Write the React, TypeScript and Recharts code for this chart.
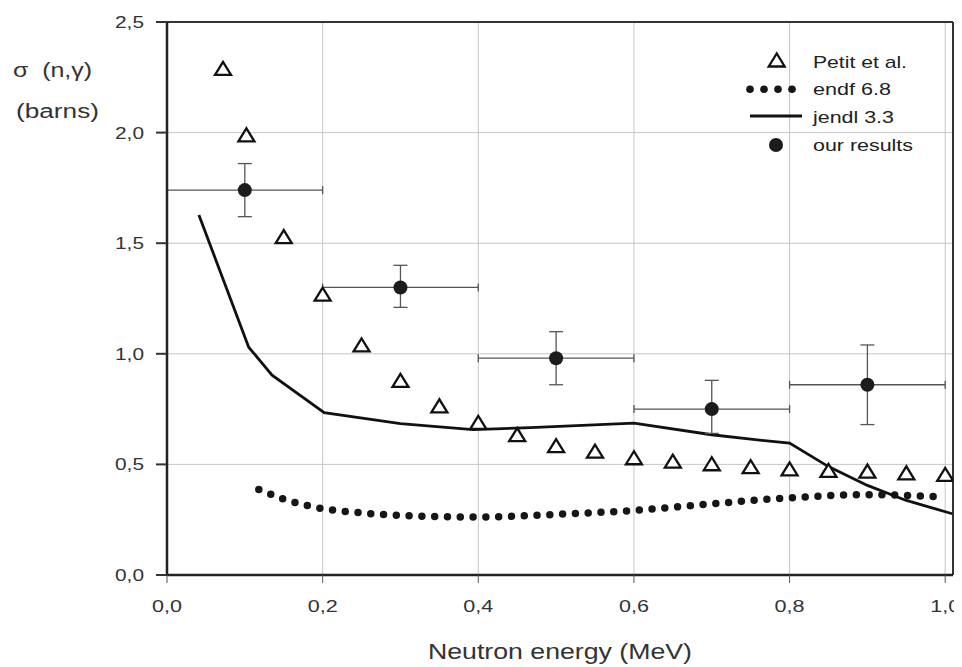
import React from "react";
import {
  ComposedChart,
  Line,
  Scatter,
  XAxis,
  YAxis,
  CartesianGrid,
  ErrorBar,
  ReferenceLine,
} from "recharts";

// ---- data ----
const petitX = [0.072, 0.102, 0.15, 0.2, 0.25, 0.3, 0.35, 0.4, 0.45, 0.5, 0.55, 0.6, 0.65, 0.7, 0.75, 0.8, 0.85, 0.9, 0.95, 1.0];
const petitY = [2.29, 1.99, 1.53, 1.27, 1.04, 0.88, 0.765, 0.69, 0.635, 0.585, 0.56, 0.53, 0.515, 0.503, 0.49, 0.48, 0.473, 0.47, 0.462, 0.455];

const endfX = [0.118, 0.15, 0.2, 0.25, 0.3, 0.4, 0.5, 0.6, 0.7, 0.8, 0.9, 1.0];
const endfY = [0.387, 0.343, 0.3, 0.281, 0.269, 0.262, 0.274, 0.292, 0.322, 0.349, 0.363, 0.352];

const jendlX = [0.041, 0.105, 0.135, 0.202, 0.3, 0.393, 0.467, 0.6, 0.7, 0.75, 0.8, 0.85, 0.9, 0.95, 1.009];
const jendlY = [1.627, 1.03, 0.903, 0.734, 0.684, 0.657, 0.666, 0.687, 0.634, 0.614, 0.596, 0.49, 0.405, 0.337, 0.277];

const resultsX = [0.1, 0.3, 0.5, 0.7, 0.9];
const resultsY = [1.74, 1.3, 0.98, 0.75, 0.86];
const errLow = [0.12, 0.09, 0.12, 0.11, 0.18];
const errHigh = [0.12, 0.1, 0.12, 0.13, 0.18];
const binHalf = [0.1, 0.1, 0.1, 0.1, 0.1];

const xTicks = [0, 0.2, 0.4, 0.6, 0.8, 1.0];
const yTicks = [0, 0.5, 1.0, 1.5, 2.0, 2.5];

const legendLabels = ["Petit et al.", "endf 6.8", "jendl 3.3", "our results"];
const xLabel = "Neutron energy (MeV)";
const yLabel1 = "\u03c3  (n,\u03b3)";
const yLabel2 = "(barns)";

// ---- tables built from arrays ----
const petitData = petitX.map((x, i) => ({ x, y: petitY[i] }));
const endfData = endfX.map((x, i) => ({ x, y: endfY[i] }));
const jendlData = jendlX.map((x, i) => ({ x, y: jendlY[i] }));
const resultsData = resultsX.map((x, i) => ({
  x,
  y: resultsY[i],
  ey: [errLow[i], errHigh[i]],
  ex: binHalf[i],
}));

const FONT = '"Liberation Sans", Arial, Helvetica, sans-serif';
const fmt = (v: number) => v.toFixed(1).replace(".", ",");

const Triangle = (props: any) => {
  const { cx, cy } = props;
  if (cx == null || cy == null) return null;
  return (
    <polygon
      points={`${cx},${cy - 6.5} ${cx - 8},${cy + 6.5} ${cx + 8},${cy + 6.5}`}
      fill="#fff"
      stroke="#111"
      strokeWidth={2.3}
    />
  );
};

const Dot = (props: any) => {
  const { cx, cy } = props;
  if (cx == null || cy == null) return null;
  return <circle cx={cx} cy={cy} r={7} fill="#1c1c1c" />;
};

const XTick = (props: any) => {
  const { x, y, payload } = props;
  return (
    <text
      x={x}
      y={y}
      dy="0.71em"
      textAnchor="middle"
      fontSize={17}
      fontFamily={FONT}
      fill="#333"
      textLength={30}
      lengthAdjust="spacingAndGlyphs"
    >
      {fmt(payload.value)}
    </text>
  );
};

const YTick = (props: any) => {
  const { x, y, payload } = props;
  return (
    <text
      x={x - 29}
      y={y}
      dy="0.355em"
      textAnchor="start"
      fontSize={17}
      fontFamily={FONT}
      fill="#333"
      textLength={29}
      lengthAdjust="spacingAndGlyphs"
    >
      {fmt(payload.value)}
    </text>
  );
};

const W = 954;
const H = 659;

export default function App() {
  return (
    <div style={{ position: "relative", width: W, height: H, background: "#fff" }}>
      <style>{`html,body{overflow:hidden}.recharts-surface{overflow:visible}`}</style>
      <ComposedChart
        width={W}
        height={H}
        margin={{ top: 14, right: 9, left: 0, bottom: 22 }}
      >
        <CartesianGrid stroke="#c6c6c6" strokeWidth={1} />
        <XAxis
          type="number"
          dataKey="x"
          domain={[0, 1.01]}
          ticks={xTicks}
          allowDataOverflow
          height={70}
          tickSize={8}
          tickMargin={17}
          tick={<XTick />}
          axisLine={{ stroke: "#222", strokeWidth: 2.5 }}
          tickLine={{ stroke: "#555", strokeWidth: 1 }}
        />
        <YAxis
          type="number"
          dataKey="y"
          domain={[0, 2.5]}
          ticks={yTicks}
          allowDataOverflow
          width={159}
          tickSize={11}
          tickMargin={12}
          tick={<YTick />}
          axisLine={{ stroke: "#222", strokeWidth: 2.5 }}
          tickLine={{ stroke: "#333", strokeWidth: 2 }}
        />
        <ReferenceLine y={2.5} stroke="#333" strokeWidth={2} ifOverflow="visible" />
        <ReferenceLine x={1.01} stroke="#333" strokeWidth={2} ifOverflow="visible" />
        <Line
          data={endfData}
          dataKey="y"
          type="monotone"
          stroke="#161616"
          strokeWidth={7.5}
          strokeDasharray="0 12.8"
          strokeLinecap="round"
          dot={false}
          activeDot={false}
          isAnimationActive={false}
        />
        <Line
          data={jendlData}
          dataKey="y"
          type="linear"
          stroke="#111"
          strokeWidth={2.8}
          dot={false}
          activeDot={false}
          isAnimationActive={false}
        />
        <Scatter data={petitData} dataKey="y" shape={<Triangle />} isAnimationActive={false} />
        <Scatter data={resultsData} dataKey="y" shape={<Dot />} isAnimationActive={false}>
          <ErrorBar dataKey="ey" direction="y" width={7} stroke="#555" strokeWidth={1.3} />
          <ErrorBar dataKey="ex" direction="x" width={4} stroke="#555" strokeWidth={1.3} />
        </Scatter>
      </ComposedChart>
      <svg
        width={W}
        height={H}
        style={{ position: "absolute", left: 0, top: 0, pointerEvents: "none", overflow: "visible" }}
        fontFamily={FONT}
      >
        {/* Y axis title */}
        <text x={5} y={69} fontSize={20} fill="#333" textLength={79} lengthAdjust="spacingAndGlyphs" style={{ whiteSpace: "pre" }}>
          {yLabel1}
        </text>
        <text x={8} y={110} fontSize={20} fill="#333" textLength={83} lengthAdjust="spacingAndGlyphs">
          {yLabel2}
        </text>
        {/* X axis title */}
        <text x={420} y={651} fontSize={22} fill="#333" textLength={264} lengthAdjust="spacingAndGlyphs">
          {xLabel}
        </text>
        {/* Legend */}
        <polygon points="768.7,45.5 760.7,58.5 776.7,58.5" fill="#fff" stroke="#111" strokeWidth={2.3} />
        <text x={805} y={60} fontSize={17} fill="#222" textLength={94} lengthAdjust="spacingAndGlyphs">
          {legendLabels[0]}
        </text>
        {[742, 756, 770, 784].map((cx) => (
          <circle key={cx} cx={cx} cy={81.3} r={3.8} fill="#161616" />
        ))}
        <text x={805} y={87} fontSize={17} fill="#222" textLength={78} lengthAdjust="spacingAndGlyphs">
          {legendLabels[1]}
        </text>
        <line x1={742} y1={108} x2={794} y2={108} stroke="#111" strokeWidth={2.8} />
        <text x={805} y={114.7} fontSize={17} fill="#222" textLength={81} lengthAdjust="spacingAndGlyphs">
          {legendLabels[2]}
        </text>
        <circle cx={768} cy={137} r={7} fill="#1c1c1c" />
        <text x={805} y={142.7} fontSize={17} fill="#222" textLength={100} lengthAdjust="spacingAndGlyphs">
          {legendLabels[3]}
        </text>
      </svg>
    </div>
  );
}
